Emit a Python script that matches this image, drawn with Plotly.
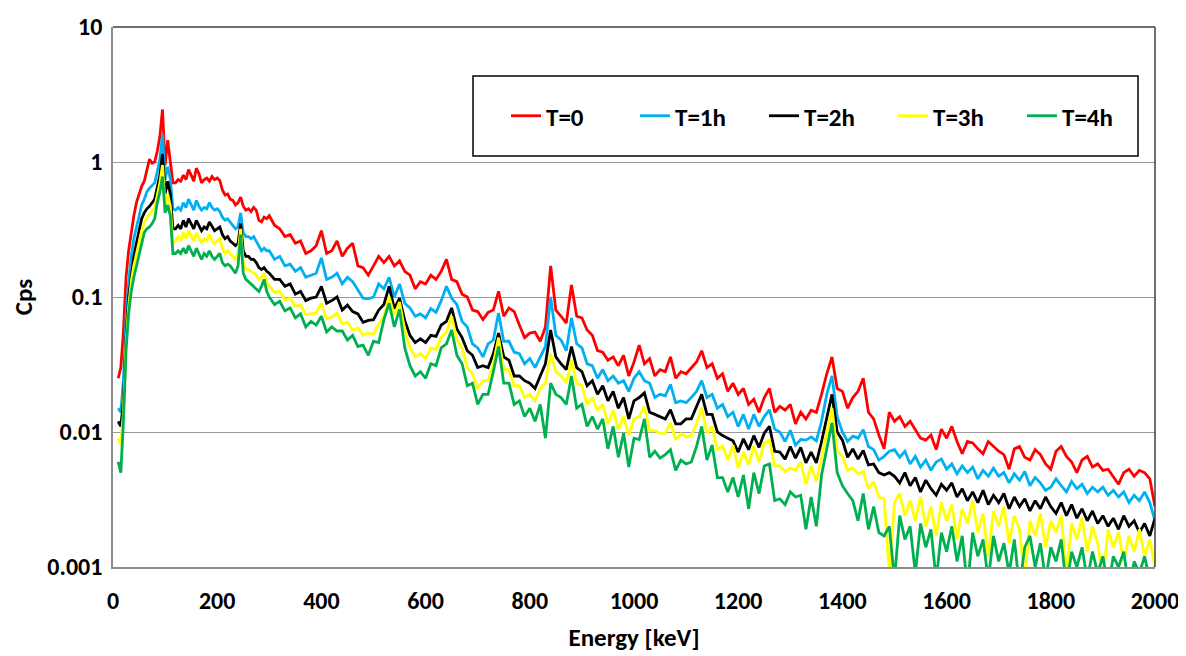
import plotly.graph_objects as go

# Energy grid (keV): 5 keV channels below 300 keV, 10 keV above
energy = list(range(10, 300, 5)) + list(range(300, 2001, 10))

t0 = [
    0.025, 0.030, 0.055, 0.14, 0.22, 0.31, 0.40, 0.50, 0.58, 0.66,
    0.72, 0.85, 1.05, 0.98, 1.0, 1.2, 1.55, 2.45, 0.95, 1.45,
    0.95, 0.70, 0.70, 0.74, 0.72, 0.80, 0.74, 0.88, 0.80, 0.72,
    0.90, 0.82, 0.70, 0.74, 0.76, 0.72, 0.78, 0.74, 0.76, 0.73,
    0.62, 0.57, 0.58, 0.53, 0.52, 0.48, 0.50, 0.55, 0.47, 0.44,
    0.45, 0.43, 0.46, 0.44, 0.37, 0.36, 0.39, 0.38,
    0.40, 0.34, 0.32, 0.28, 0.29, 0.25, 0.26, 0.21, 0.22, 0.24,
    0.31, 0.21, 0.22, 0.26, 0.20, 0.23, 0.25, 0.17, 0.165, 0.145,
    0.17, 0.20, 0.18, 0.20, 0.17, 0.185, 0.155, 0.145, 0.115, 0.13,
    0.125, 0.145, 0.135, 0.155, 0.19, 0.135, 0.13, 0.105, 0.10, 0.08,
    0.078, 0.068, 0.077, 0.08, 0.11, 0.072, 0.083, 0.078, 0.062, 0.05,
    0.054, 0.055, 0.047, 0.06, 0.17, 0.08, 0.072, 0.064, 0.123, 0.072,
    0.07, 0.057, 0.052, 0.04, 0.039, 0.034, 0.036, 0.031, 0.037, 0.026,
    0.033, 0.044, 0.032, 0.035, 0.026, 0.029, 0.028, 0.036, 0.025, 0.028,
    0.027, 0.030, 0.033, 0.040, 0.030, 0.032, 0.025, 0.027, 0.020, 0.023,
    0.019, 0.021, 0.016, 0.0175, 0.014, 0.018, 0.021, 0.014, 0.0155, 0.0145,
    0.016, 0.0115, 0.014, 0.0125, 0.0145, 0.014, 0.019, 0.027, 0.036, 0.021,
    0.020, 0.015, 0.018, 0.020, 0.025, 0.014, 0.0125, 0.0095, 0.0075, 0.014,
    0.012, 0.013, 0.011, 0.012, 0.0105, 0.009, 0.0087, 0.0095, 0.0074, 0.0105,
    0.009, 0.011, 0.0085, 0.0069, 0.0085, 0.0083, 0.0075, 0.0069, 0.0085, 0.0078,
    0.0072, 0.0068, 0.0053, 0.0075, 0.0078, 0.0065, 0.0062, 0.0074, 0.0068, 0.0058,
    0.0053, 0.0072, 0.0078, 0.0066, 0.0060, 0.0050, 0.0062, 0.0066, 0.0055, 0.0058,
    0.0052, 0.0053, 0.0047, 0.0041, 0.0050, 0.0053, 0.0047, 0.0052, 0.0050, 0.0045,
    0.0028,
]

t1 = [
    0.015, 0.014, 0.024, 0.07, 0.13, 0.20, 0.27, 0.33, 0.40, 0.48,
    0.53, 0.60, 0.64, 0.67, 0.70, 0.85, 1.05, 1.6, 0.74, 0.92,
    0.75, 0.45, 0.44, 0.46, 0.44, 0.50, 0.46, 0.53, 0.48, 0.44,
    0.52, 0.47, 0.44, 0.46, 0.45, 0.50, 0.46, 0.44, 0.45, 0.43,
    0.39, 0.37, 0.38, 0.36, 0.34, 0.32, 0.33, 0.42, 0.30, 0.28,
    0.28, 0.27, 0.28, 0.26, 0.24, 0.22, 0.23, 0.22,
    0.22, 0.19, 0.20, 0.17, 0.175, 0.155, 0.165, 0.14, 0.145, 0.15,
    0.195, 0.135, 0.14, 0.15, 0.125, 0.14, 0.13, 0.112, 0.098, 0.097,
    0.10, 0.125, 0.115, 0.14, 0.10, 0.125, 0.09, 0.083, 0.072, 0.075,
    0.07, 0.082, 0.077, 0.094, 0.12, 0.098, 0.088, 0.066, 0.06, 0.045,
    0.042, 0.036, 0.045, 0.048, 0.076, 0.047, 0.047, 0.039, 0.038, 0.032,
    0.035, 0.030, 0.036, 0.043, 0.10, 0.052, 0.048, 0.040, 0.07, 0.045,
    0.042, 0.032, 0.031, 0.025, 0.029, 0.024, 0.026, 0.023, 0.024, 0.020,
    0.025, 0.028, 0.024, 0.023, 0.018, 0.019, 0.0185, 0.0225, 0.0165, 0.017,
    0.0165, 0.018, 0.020, 0.024, 0.018, 0.019, 0.015, 0.016, 0.013, 0.014,
    0.011, 0.0135, 0.0105, 0.0135, 0.011, 0.013, 0.0146, 0.0105, 0.010, 0.0085,
    0.0103, 0.008, 0.0088, 0.0087, 0.0092, 0.0086, 0.012, 0.019, 0.026, 0.013,
    0.010, 0.0085, 0.0093, 0.009, 0.0104, 0.0078, 0.0074, 0.0062, 0.0066, 0.0072,
    0.0074, 0.0065, 0.0072, 0.0058, 0.0066, 0.0055, 0.0062, 0.0052, 0.0060, 0.0063,
    0.0053, 0.0058, 0.0049, 0.0056, 0.0050, 0.0055, 0.0045, 0.0052, 0.0047, 0.0054,
    0.0047, 0.0050, 0.0042, 0.0049, 0.0044, 0.0051, 0.0040, 0.0046, 0.0042, 0.0037,
    0.0039, 0.0045, 0.0040, 0.0036, 0.0043, 0.0038, 0.0041, 0.0035, 0.0039, 0.0036,
    0.0039, 0.0034, 0.0037, 0.0033, 0.0036, 0.0030, 0.0034, 0.0031, 0.0036, 0.0030,
    0.0022,
]

t2 = [
    0.012, 0.011, 0.017, 0.05, 0.10, 0.15, 0.20, 0.25, 0.31, 0.38,
    0.42, 0.45, 0.47, 0.50, 0.53, 0.65, 0.80, 1.15, 0.58, 0.72,
    0.58, 0.32, 0.32, 0.34, 0.32, 0.37, 0.33, 0.38, 0.35, 0.32,
    0.37, 0.34, 0.31, 0.33, 0.32, 0.36, 0.33, 0.31, 0.32, 0.33,
    0.29, 0.27, 0.28, 0.26, 0.25, 0.24, 0.25, 0.35, 0.22, 0.20,
    0.20, 0.19, 0.19, 0.18, 0.165, 0.16, 0.165, 0.155,
    0.15, 0.135, 0.135, 0.12, 0.125, 0.105, 0.11, 0.094, 0.098, 0.10,
    0.12, 0.09, 0.094, 0.10, 0.08, 0.087, 0.078, 0.075, 0.065, 0.067,
    0.068, 0.08, 0.088, 0.12, 0.082, 0.098, 0.067, 0.052, 0.046, 0.049,
    0.046, 0.052, 0.051, 0.062, 0.066, 0.083, 0.058, 0.05, 0.04, 0.037,
    0.030, 0.031, 0.030, 0.038, 0.054, 0.036, 0.034, 0.026, 0.026, 0.024,
    0.023, 0.021, 0.026, 0.032, 0.057, 0.036, 0.032, 0.029, 0.043, 0.030,
    0.028, 0.022, 0.024, 0.019, 0.022, 0.017, 0.020, 0.015, 0.018, 0.0125,
    0.017, 0.018, 0.0195, 0.014, 0.0135, 0.013, 0.0125, 0.0146, 0.0115, 0.0115,
    0.0125, 0.0125, 0.0155, 0.019, 0.0135, 0.0135, 0.010, 0.0094, 0.009, 0.0086,
    0.0071, 0.0089, 0.0074, 0.0094, 0.0077, 0.0098, 0.011, 0.0072, 0.0071, 0.0063,
    0.0078, 0.0064, 0.0077, 0.0059, 0.0071, 0.0059, 0.0085, 0.013, 0.019, 0.0100,
    0.0087, 0.0065, 0.0075, 0.0063, 0.0073, 0.0057, 0.0058, 0.0050, 0.0048, 0.0050,
    0.0047, 0.0042, 0.0050, 0.0040, 0.0046, 0.0036, 0.0044, 0.0038, 0.0034, 0.0041,
    0.0037, 0.0042, 0.0033, 0.0038, 0.0031, 0.0036, 0.0030, 0.0037, 0.0029, 0.0034,
    0.0030, 0.0035, 0.0027, 0.0033, 0.0028, 0.0032, 0.0026, 0.0031, 0.0027, 0.0033,
    0.0028, 0.0025, 0.0030, 0.0024, 0.0029, 0.0023, 0.0027, 0.0022, 0.0026, 0.0021,
    0.0024, 0.0020, 0.0023, 0.0019, 0.0024, 0.0020, 0.0022, 0.0018, 0.0021, 0.0017,
    0.0023,
]

t3 = [
    0.009, 0.008, 0.014, 0.045, 0.085, 0.13, 0.17, 0.21, 0.26, 0.31,
    0.35, 0.39, 0.41, 0.43, 0.46, 0.57, 0.70, 0.95, 0.48, 0.58,
    0.47, 0.25, 0.26, 0.28, 0.26, 0.30, 0.27, 0.31, 0.28, 0.26,
    0.30, 0.27, 0.25, 0.27, 0.26, 0.29, 0.26, 0.25, 0.26, 0.27,
    0.23, 0.21, 0.22, 0.21, 0.20, 0.19, 0.21, 0.32, 0.18, 0.16,
    0.16, 0.155, 0.15, 0.145, 0.135, 0.14, 0.15, 0.13,
    0.12, 0.108, 0.11, 0.095, 0.098, 0.085, 0.088, 0.074, 0.075, 0.076,
    0.09, 0.069, 0.071, 0.076, 0.063, 0.065, 0.057, 0.059, 0.052, 0.054,
    0.053, 0.063, 0.072, 0.10, 0.073, 0.092, 0.057, 0.042, 0.036, 0.038,
    0.035, 0.042, 0.041, 0.05, 0.055, 0.072, 0.048, 0.042, 0.03, 0.027,
    0.021, 0.024, 0.024, 0.032, 0.05, 0.029, 0.029, 0.022, 0.022, 0.018,
    0.019, 0.017, 0.021, 0.023, 0.038, 0.028, 0.026, 0.023, 0.034, 0.023,
    0.022, 0.016, 0.018, 0.0145, 0.016, 0.0115, 0.0145, 0.0105, 0.013, 0.0095,
    0.0125, 0.013, 0.0155, 0.0102, 0.0102, 0.0098, 0.0098, 0.0117, 0.0088, 0.0097,
    0.0092, 0.0094, 0.0115, 0.015, 0.0098, 0.011, 0.0074, 0.0079, 0.0062, 0.008,
    0.0054, 0.0071, 0.0057, 0.0079, 0.006, 0.0083, 0.0087, 0.0056, 0.0056, 0.0051,
    0.0054, 0.0052, 0.006, 0.0041, 0.0056, 0.0043, 0.0065, 0.010, 0.015, 0.0072,
    0.0066, 0.0052, 0.0054, 0.0049, 0.0051, 0.0038, 0.0043, 0.0033, 0.0032, 0.0009,
    0.0030, 0.0035, 0.0024, 0.0031, 0.0022, 0.0033, 0.0020, 0.0028, 0.0017, 0.0030,
    0.0022, 0.0029, 0.0016, 0.0027, 0.0021, 0.0031, 0.0018, 0.0025, 0.0012, 0.0026,
    0.0020, 0.0028, 0.0015, 0.0024, 0.0019, 0.0008, 0.0022, 0.0017, 0.0025, 0.0014,
    0.0022, 0.0018, 0.0024, 0.0009, 0.0021, 0.0016, 0.0023, 0.0013, 0.0020, 0.0015,
    0.0008, 0.0019, 0.0014, 0.0018, 0.0011, 0.0017, 0.0013, 0.0019, 0.0012, 0.0016,
    0.0010,
]

t4 = [
    0.006, 0.005, 0.012, 0.04, 0.075, 0.11, 0.14, 0.17, 0.21, 0.26,
    0.30, 0.32, 0.33, 0.35, 0.38, 0.50, 0.60, 0.78, 0.42, 0.48,
    0.40, 0.21, 0.21, 0.22, 0.21, 0.23, 0.21, 0.24, 0.22, 0.20,
    0.23, 0.21, 0.19, 0.21, 0.20, 0.22, 0.20, 0.19, 0.20, 0.21,
    0.18, 0.17, 0.175, 0.17, 0.16, 0.15, 0.17, 0.29, 0.15, 0.135,
    0.13, 0.125, 0.12, 0.115, 0.11, 0.12, 0.135, 0.11,
    0.10, 0.088, 0.093, 0.079, 0.083, 0.07, 0.075, 0.06, 0.066, 0.062,
    0.072, 0.055, 0.06, 0.056, 0.056, 0.048, 0.052, 0.043, 0.044, 0.037,
    0.047, 0.046, 0.068, 0.09, 0.06, 0.081, 0.042, 0.031, 0.026, 0.028,
    0.025, 0.032, 0.031, 0.042, 0.045, 0.057, 0.037, 0.032, 0.022, 0.023,
    0.016, 0.019, 0.019, 0.028, 0.043, 0.023, 0.023, 0.016, 0.017, 0.013,
    0.015, 0.012, 0.016, 0.009, 0.023, 0.019, 0.018, 0.016, 0.026, 0.015,
    0.016, 0.011, 0.013, 0.0105, 0.0125, 0.0075, 0.011, 0.0065, 0.0098, 0.0055,
    0.009, 0.0088, 0.0125, 0.0065, 0.0072, 0.0064, 0.0068, 0.0074, 0.0052, 0.0062,
    0.0058, 0.006, 0.0078, 0.011, 0.0062, 0.008, 0.0046, 0.0046, 0.0036, 0.0046,
    0.0033, 0.0048, 0.0027, 0.005, 0.0035, 0.0056, 0.0058, 0.0031, 0.0032, 0.0029,
    0.0036, 0.0033, 0.0034, 0.0019, 0.0033, 0.0020, 0.0048, 0.0075, 0.0117, 0.0050,
    0.0040, 0.0035, 0.0031, 0.0022, 0.0035, 0.0019, 0.0028, 0.0018, 0.0017, 0.0020,
    0.0008, 0.0024, 0.0016, 0.0020, 0.0009, 0.0021, 0.0014, 0.0019, 0.0008, 0.0018,
    0.0013, 0.0020, 0.0011, 0.0017, 0.0007, 0.0018, 0.0012, 0.0016, 0.0008, 0.0017,
    0.0011, 0.0015, 0.0009, 0.0016, 0.0007, 0.0014, 0.0017, 0.0010, 0.0015, 0.0008,
    0.0014, 0.0011, 0.0016, 0.0007, 0.0013, 0.0010, 0.0014, 0.0008, 0.0013, 0.0009,
    0.0012, 0.0007, 0.0012, 0.0010, 0.0013, 0.0007, 0.0011, 0.0009, 0.0012, 0.0008,
    0.0010,
]

series_names = ["T=0", "T=1h", "T=2h", "T=3h", "T=4h"]
series_values = [t0, t1, t2, t3, t4]
series_colors = ["#FF0000", "#00B0F0", "#000000", "#FFFF00", "#00B050"]

x_ticks = list(range(0, 2001, 200))
y_tickvals = [0.001, 0.01, 0.1, 1, 10]
y_ticktext = ["0.001", "0.01", "0.1", "1", "10"]

FONT = "Carlito, Lato, sans-serif"
FS = 24

fig = go.Figure()
for name, vals, col in zip(series_names, series_values, series_colors):
    assert len(vals) == len(energy), (name, len(vals), len(energy))
    fig.add_trace(go.Scatter(x=energy, y=vals, mode="lines", name=name,
                             line=dict(color=col, width=2.8)))

# page offset of 8 px (default body margin) is compensated in the margins
OFF = 8
W, H = 1178, 648
L, R, T, B = 105, 31, 19, 89
pw, ph = W - L - R, H - T - B
left_px, bottom_px = L + OFF, T + OFF + ph

def px_x(px):
    return (px - left_px) / pw

def px_y(py):
    return (bottom_px - py) / ph

fig.update_layout(
    width=W, height=H,
    margin=dict(l=L, r=R, t=T, b=B, autoexpand=False),
    paper_bgcolor="white", plot_bgcolor="white",
    font=dict(family=FONT, color="black", size=FS, weight="bold"),
    showlegend=True,
    legend=dict(orientation="h", x=px_x(506), y=px_y(116), xanchor="left", yanchor="middle",
                bgcolor="rgba(0,0,0,0)", borderwidth=0,
                font=dict(family=FONT, size=25, weight="bold", color="black"),
                entrywidth=84, entrywidthmode="pixels", itemwidth=30),
    shapes=[
        dict(type="rect", xref="paper", yref="paper",
             x0=px_x(473), x1=px_x(1138), y0=px_y(156), y1=px_y(76),
             line=dict(color="black", width=1.5), fillcolor="rgba(0,0,0,0)"),
        dict(type="line", xref="paper", yref="paper", x0=0, x1=1, y0=1, y1=1,
             line=dict(color="#404040", width=1.5)),
        dict(type="line", xref="paper", yref="paper", x0=1, x1=1, y0=0, y1=1,
             line=dict(color="#404040", width=1.5)),
    ],
)

fig.update_xaxes(
    range=[0, 2000], tickvals=x_ticks, ticktext=[str(v) for v in x_ticks],
    showgrid=False, zeroline=False, automargin=False,
    showline=True, linecolor="#8C8C8C", linewidth=1.5,
    ticks="", ticklabelstandoff=11,
    tickfont=dict(family=FONT, size=FS, weight="bold"),
    title=dict(text="Energy [keV]", font=dict(family=FONT, size=25, weight="bold"), standoff=15),
)

fig.update_yaxes(
    type="log", range=[-3, 1], tickvals=y_tickvals, ticktext=y_ticktext,
    showgrid=True, gridcolor="#9A9A9A", gridwidth=1.3,
    zeroline=False, showline=True, linecolor="#8C8C8C", linewidth=1.5, automargin=False,
    ticks="", ticklabelstandoff=4,
    tickfont=dict(family=FONT, size=FS, weight="bold"),
    title=dict(text="Cps", font=dict(family=FONT, size=25, weight="bold"), standoff=10),
)

fig.write_html("out.html")
